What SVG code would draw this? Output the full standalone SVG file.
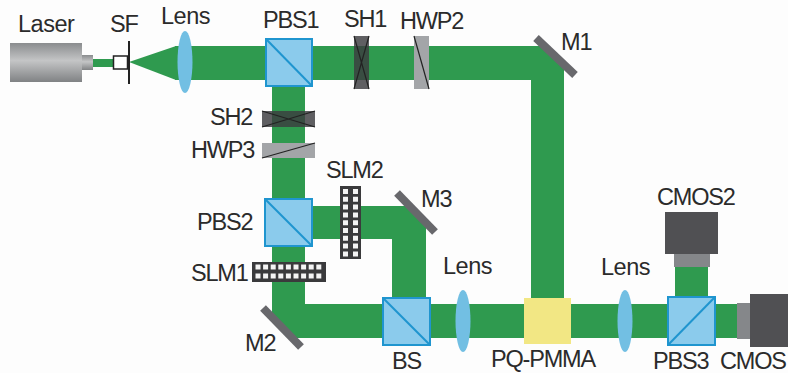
<svg xmlns="http://www.w3.org/2000/svg" width="788" height="373" viewBox="0 0 788 373">
<style>
text{font-family:"Liberation Sans",Arial,sans-serif;font-size:23.5px;fill:#2b2b2b;letter-spacing:-1.2px}
text.wide{letter-spacing:-.5px}
.beam{fill:#2f9a4f}
.cube{fill:#8bcbec;stroke:#1f95cf;stroke-width:2}
.diag{stroke:#1f95cf;stroke-width:2;fill:none}
.lens{fill:#72bfe3}
.mirror{stroke:#68686c;stroke-width:8;fill:none}
.hwp{fill:#a3a5a8}
.sh{fill:#3c3c40;fill-opacity:.82}
.thin{stroke:#222;stroke-width:1.2;fill:none}
.slm{fill:#3a3a3c}
.pix{stroke:#f4f4f4;stroke-width:5;fill:none}
.pixv{stroke-dasharray:5 2.800}
.pixh{stroke-dasharray:5 2.600}
.cam{fill:#505053}
.noz{fill:#85878a}
</style>
<defs>
<linearGradient id="laserG" x1="0" y1="0" x2="0" y2="1"><stop offset="0" stop-color="#8a8c8e"/><stop offset=".45" stop-color="#c4c5c6"/><stop offset="1" stop-color="#808284"/></linearGradient>
</defs>
<rect width="788" height="373" fill="#fdfdfd"/>
<g id="connectors">
<rect class="beam" x="93" y="59" width="21" height="8"/>
<path class="beam" d="M129 62L176 46V80Z"/>
<path class="beam" d="M175 46H545L564 65V298H531V80H175Z"/>
<rect class="beam" x="272" y="85" width="33" height="116"/>
<path class="beam" d="M272 245H305V304H385V338H293L272 316Z"/>
<path class="beam" d="M311 206H410L426 223V300H392V239H311Z"/>
<rect class="beam" x="429" y="304" width="310" height="34"/>
<rect class="beam" x="675" y="266" width="33" height="32"/>
</g>
<g id="laser"><rect x="10" y="43" width="72" height="39" fill="url(#laserG)"/><rect x="82" y="55" width="11" height="15" fill="url(#laserG)"/><text class="wide" x="18" y="32">Laser</text></g>
<g id="sf"><rect x="113.500" y="56" width="14" height="13" fill="#fff" stroke="#222" stroke-width="1.500"/><path d="M129 41V84" stroke="#222" stroke-width="2"/><text x="110" y="32">SF</text></g>
<g id="lens1"><ellipse class="lens" cx="185" cy="62" rx="7.500" ry="31"/><text class="wide" x="161" y="24">Lens</text></g>
<g id="pbs1"><rect class="cube" x="266" y="39" width="46" height="47"/><path class="diag" d="M266 39L312 86"/><text x="263" y="28">PBS1</text></g>
<g id="sh1"><rect class="sh" x="354" y="36" width="15" height="53"/><path class="thin" d="M354 36L369 89M369 36L354 89"/><text x="344" y="27">SH1</text></g>
<g id="hwp2"><rect class="hwp" x="414" y="36" width="15" height="53"/><path class="thin" d="M414 36L429 89"/><text x="400" y="29">HWP2</text></g>
<g id="m1"><path class="mirror" d="M536 38L575 75"/><text x="561" y="50">M1</text></g>
<g id="sh2"><rect class="sh" x="262" y="111" width="53" height="16"/><path class="thin" d="M262 127L315 111M262 111L315 127"/><text x="210" y="125">SH2</text></g>
<g id="hwp3"><rect class="hwp" x="262" y="143" width="53" height="15"/><path class="thin" d="M262 158L315 143"/><text x="191" y="158">HWP3</text></g>
<g id="pbs2"><rect class="cube" x="265" y="199" width="47" height="47"/><path class="diag" d="M265 199L312 246"/><text x="197" y="230">PBS2</text></g>
<g id="slm2"><rect class="slm" x="340" y="186" width="21" height="73"/><path class="pix pixv" d="M345.500 189V257M355.500 189V257"/><text x="326" y="178">SLM2</text></g>
<g id="slm1"><rect class="slm" x="252" y="262" width="74" height="20"/><path class="pix pixh" d="M255.500 267H323M255.500 276H323"/><text x="191" y="281">SLM1</text></g>
<g id="m3"><path class="mirror" d="M397 193L435 232"/><text x="421" y="207">M3</text></g>
<g id="m2"><path class="mirror" d="M263 308L301 347"/><text x="245" y="351">M2</text></g>
<g id="bs"><rect class="cube" x="383" y="298" width="47" height="47"/><path class="diag" d="M383 298L430 345"/><text x="392" y="369">BS</text></g>
<g id="lens2"><ellipse class="lens" cx="463" cy="321" rx="7.500" ry="31"/><text class="wide" x="443" y="274">Lens</text></g>
<g id="pq-pmma"><rect x="524" y="298" width="47" height="46" fill="#f2e784"/><text x="491" y="367">PQ-PMMA</text></g>
<g id="lens3"><ellipse class="lens" cx="625" cy="321" rx="7.500" ry="31"/><text class="wide" x="601" y="275">Lens</text></g>
<g id="pbs3"><rect class="cube" x="668" y="297" width="47" height="48"/><path class="diag" d="M668 345L715 297"/><text x="653" y="369">PBS3</text></g>
<g id="cmos2"><rect class="noz" x="674" y="254" width="36" height="13"/><rect class="cam" x="665" y="212" width="53" height="42"/><text x="657" y="205">CMOS2</text></g>
<g id="cmos"><rect class="noz" x="737" y="303" width="14" height="36"/><rect class="cam" x="750" y="294" width="38" height="53"/><text x="720" y="369">CMOS</text></g>
</svg>
